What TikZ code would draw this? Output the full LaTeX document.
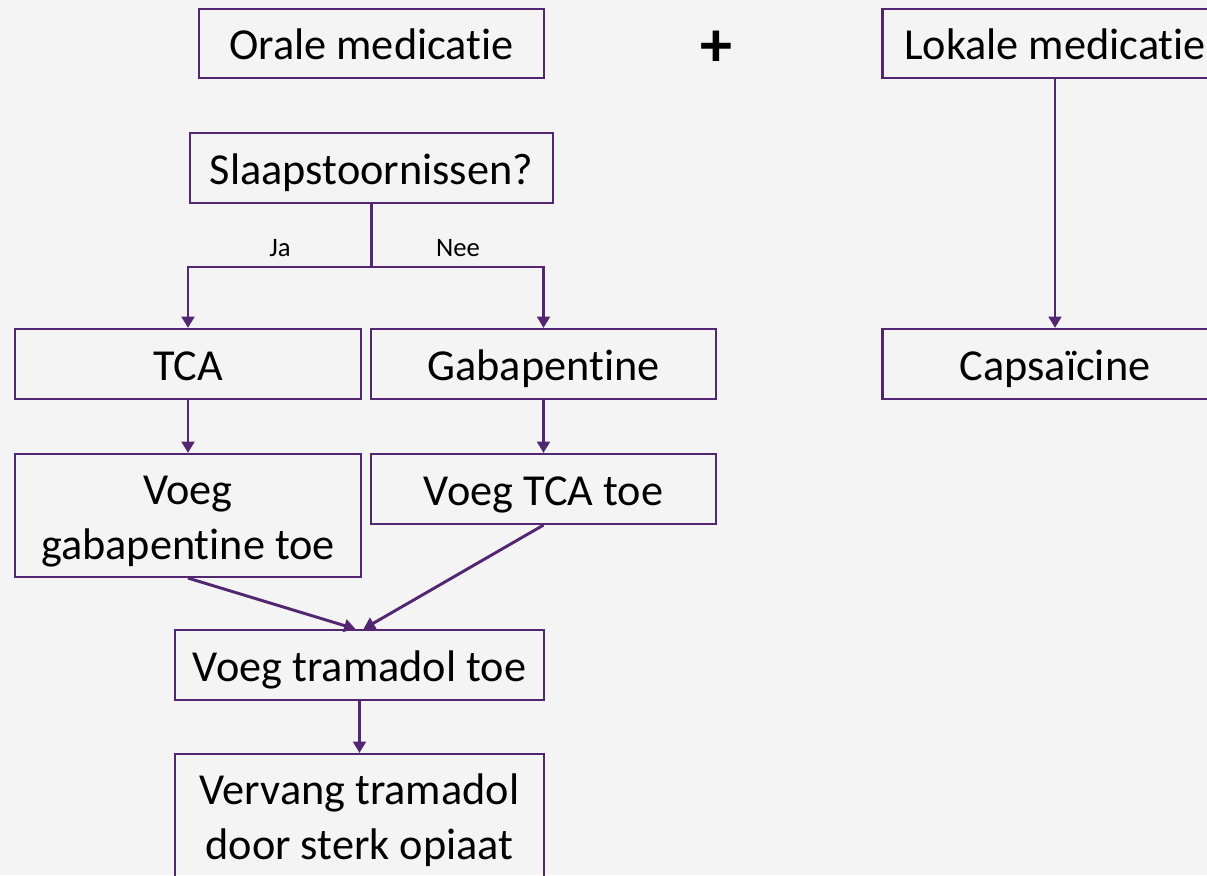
\documentclass[tikz,border=0pt]{standalone}
\usepackage{fontspec}
\setmainfont{Carlito}[Ligatures=NoCommon]
\usetikzlibrary{arrows.meta,calc}
\definecolor{flowline}{RGB}{82,38,112}
\definecolor{canvas}{RGB}{244,244,244}
% "ti" written without the font's ligature
\newcommand\tiN{t\kern0pt i}
\begin{document}
\begin{tikzpicture}[x=0.75pt,y=-0.75pt,
  box/.style={draw=flowline, line width=1.6pt, rectangle, align=center,
    inner sep=0pt, font=\fontsize{33.2}{41}\selectfont, text=black,
    text height=33pt, text depth=8.3pt},
  twoline/.style={text height=74pt, text depth=8.3pt},
  conn/.style={draw=flowline, line width=2.2pt, line join=miter},
  arr/.style={conn, -{Triangle[length=8.5pt,width=9.5pt]}},
  lbl/.style={font=\fontsize{20}{24}\selectfont, text=black, inner sep=0pt}]
% canvas and page size
\path[fill=canvas, use as bounding box] (0,0) rectangle (1207,875);
\clip (0,0) rectangle (1207,875);

% top row
\node[box, minimum width=258.75pt, minimum height=51.75pt] (oral) at (371.5,43.5) {Orale medica\tiN e};
\node[font=\fontsize{48}{52}\selectfont\bfseries, inner sep=0pt] (plus) at (716,49) {+};
\node[box, minimum width=258.75pt, minimum height=51.75pt] (lokaal) at (1055,43.5) {Lokale medica\tiN e};

% decision
\node[box, minimum width=272.25pt, minimum height=52.5pt] (slaap) at (371.5,168) {Slaapstoornissen?};
\coordinate (split) at (371.5,267);

% branches
\node[box, minimum width=259.5pt, minimum height=52.5pt] (tca) at (188,364) {TCA};
\node[box, minimum width=258.75pt, minimum height=52.5pt] (gaba) at (543.5,364) {Gabapen\tiN ne};
\node[box, minimum width=258.75pt, minimum height=52.5pt] (caps) at (1055,364) {Capsaïcine};

\node[box, twoline, minimum width=259.5pt, minimum height=92.25pt] (vgaba) at (188,515.5) {Voeg\\gabapen\tiN ne toe};
\node[box, minimum width=258.75pt, minimum height=52.5pt] (vtca) at (543.5,489) {Voeg TCA toe};

\node[box, minimum width=276.75pt, minimum height=52.5pt] (tram) at (359.5,665) {Voeg tramadol toe};
\node[box, twoline, minimum width=276.75pt, minimum height=92.25pt] (opiaat) at (359.5,815.5) {Vervang tramadol\\door sterk opiaat};

% labels
\node[lbl] (ja) at (280,248) {Ja};
\node[lbl] (nee) at (458,248) {Nee};

% connectors
\draw[conn] (slaap.south) -- (split);
\draw[arr] (split) -| (tca.north);
\draw[arr] (split) -| (gaba.north);
\draw[arr] (lokaal.south) -- (caps.north);
\draw[arr] (tca.south) -- (vgaba.north);
\draw[arr] (gaba.south) -- (vtca.north);
\draw[arr] (vgaba.south) -- ($(tram.north)+(-4,0)$);
\draw[arr] (vtca.south) -- ($(tram.north)+(4,0)$);
\draw[arr] (tram.south) -- (opiaat.north);
\end{tikzpicture}
\end{document}
